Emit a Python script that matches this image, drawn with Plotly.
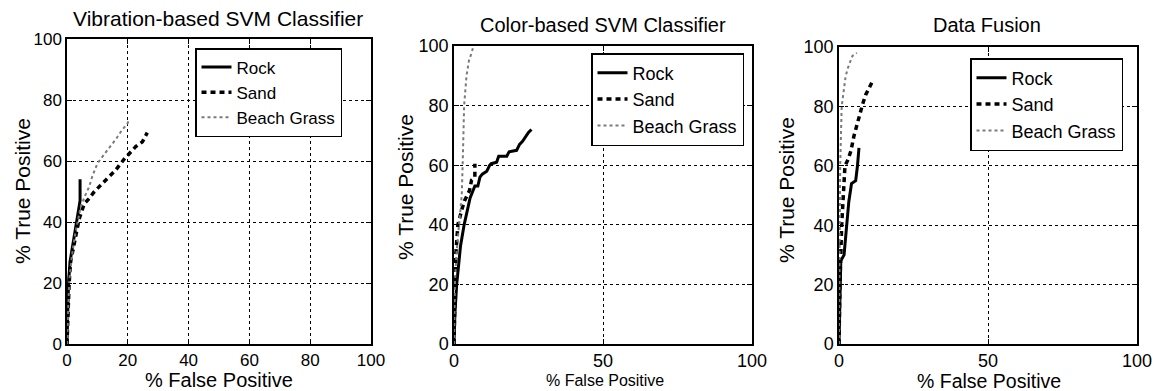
import plotly.graph_objects as go

W, H = 1158, 391

# ---------------- Data ----------------
titles = ["Vibration-based SVM Classifier", "Color-based SVM Classifier", "Data Fusion"]
series_names = ["Rock", "Sand", "Beach Grass"]

# Panel 1: Vibration-based
vib_rock_fp = [0, 0.3, 0.5, 1.0, 1.5, 2.2, 2.8, 3.3, 3.8, 4.3, 4.3]
vib_rock_tp = [0, 10, 20, 27, 30, 33, 37, 40, 44, 47, 54]
vib_sand_fp = [0, 0.3, 0.7, 1.2, 2, 3, 4, 5, 5.7, 7.3, 8.7, 11.1, 13.3, 16, 18.8, 20.4, 22.6, 24.8, 26.4]
vib_sand_tp = [0, 10, 20, 27, 31, 36, 41, 44, 46, 47.7, 49.6, 52.1, 54.3, 57, 60.6, 62.5, 64.7, 66.3, 69.3]
vib_grass_fp = [0, 0.3, 0.7, 1.5, 2.5, 3.5, 4.5, 5.8, 7.3, 8.3, 10, 13.3, 16, 18, 19.9, 20.4]
vib_grass_tp = [0, 10, 20, 28, 35, 40, 45, 48.3, 51.6, 54.9, 59.2, 63.6, 67, 70, 72.3, 73.5]

# Panel 2: Color-based
col_rock_fp = [0, 0.3, 0.9, 1.5, 2.2, 3.4, 4.4, 5.4, 6.2, 7, 8, 8.7, 9.5, 11, 12, 12.5, 14.3, 15, 17.7, 18.5, 21, 22, 23, 24, 25, 26]
col_rock_tp = [0, 10, 20, 27, 33, 40, 45, 49, 51, 53, 53, 56, 57, 58, 60, 60.5, 61, 63, 63, 64.5, 65, 67, 68, 69.5, 71, 72]
col_sand_fp = [0, 0.3, 0.6, 1.3, 2, 2.6, 3.5, 4.3, 5.2, 5.9, 7, 7]
col_sand_tp = [0, 20, 30, 40, 43, 45, 48, 50, 51.5, 55, 56, 60.5]
col_grass_fp = [0, 0.3, 0.8, 1.5, 2, 2.6, 2.9, 3.2, 3.4, 4.2, 5, 6, 6.5]
col_grass_tp = [0, 20, 30, 38, 42, 50, 60, 70, 80, 90, 95, 98, 100]

# Panel 3: Data fusion
fus_rock_fp = [0, 0.3, 0.6, 1.7, 2.5, 3.3, 4.2, 5.6, 6.2, 6.7]
fus_rock_tp = [0, 20, 28, 30, 40, 48, 54, 55, 60, 66]
fus_sand_fp = [0, 0.3, 0.9, 1.5, 2, 3, 4, 5, 6, 7, 8, 9, 10, 11, 11.5]
fus_sand_tp = [0, 20, 40, 52, 60, 62, 65, 70, 74, 78, 81, 84, 86, 88, 89]
fus_grass_fp = [0, 0.2, 0.4, 0.9, 1.5, 2.2, 3, 4.5, 6]
fus_grass_tp = [0, 40, 60, 80, 85, 90, 93, 97, 98]

panels = [
    [(vib_rock_fp, vib_rock_tp), (vib_sand_fp, vib_sand_tp), (vib_grass_fp, vib_grass_tp)],
    [(col_rock_fp, col_rock_tp), (col_sand_fp, col_sand_tp), (col_grass_fp, col_grass_tp)],
    [(fus_rock_fp, fus_rock_tp), (fus_sand_fp, fus_sand_tp), (fus_grass_fp, fus_grass_tp)],
]
x_ticks = [[0, 20, 40, 60, 80, 100], [0, 50, 100], [0, 50, 100]]
y_ticks = [0, 20, 40, 60, 80, 100]

# ---------------- Layout geometry (pixels) ----------------
boxes = [(67, 371, 39, 344), (454, 752, 46, 344), (839, 1137, 47, 344)]
tick_fs = [17, 18, 18]
legend_boxes = [(195, 48, 17), (591, 53, 18), (970, 58, 18)]
title_pos = [(218, 18), (603, 25), (987, 25)]
title_fs = [21, 20, 20]
xtitle_pos = [(219, 380, 20), (605, 380, 16), (989, 381, 19.5)]
ytitle_pos = [(22, 191, 21), (405, 187, 21), (787, 190, 21)]

styles = [
    dict(color="black", width=3, dash="solid"),
    dict(color="black", width=3.5, dash="5px,4px"),
    dict(color="#7a7a7a", width=2, dash="dot"),
]

FONT = "Liberation Sans, Arial, Helvetica, sans-serif"

fig = go.Figure()
for i, pdata in enumerate(panels):
    xa = "x" if i == 0 else f"x{i+1}"
    ya = "y" if i == 0 else f"y{i+1}"
    lg = "legend" if i == 0 else f"legend{i+1}"
    for j, (xs, ys) in enumerate(pdata):
        fig.add_trace(go.Scatter(
            x=xs, y=ys, mode="lines", name=series_names[j],
            line=styles[j], xaxis=xa, yaxis=ya, legend=lg, showlegend=True,
        ))

layout = dict(
    width=W, height=H, margin=dict(l=0, r=0, t=0, b=0, autoexpand=False),
    paper_bgcolor="white", plot_bgcolor="white",
    font=dict(family=FONT, color="black"),
    annotations=[],
)

for i, (x0, x1, y0, y1) in enumerate(boxes):
    sfx = "" if i == 0 else str(i + 1)
    common = dict(
        showline=True, linecolor="black", linewidth=1.5, mirror="ticks",
        ticks="inside", ticklen=5, tickcolor="black", tickwidth=1,
        showgrid=True, gridcolor="black", gridwidth=1, griddash="dot",
        zeroline=False, tickfont=dict(size=tick_fs[i], family=FONT, color="black"),
        range=[0, 100], fixedrange=True, automargin=False,
    )
    layout["xaxis" + sfx] = dict(
        common, domain=[x0 / W, x1 / W], tickvals=x_ticks[i],
        anchor="y" + sfx,
    )
    layout["yaxis" + sfx] = dict(
        common, domain=[1 - y1 / H, 1 - y0 / H], tickvals=y_ticks,
        anchor="x" + sfx,
    )
    lx, ly, lfs = legend_boxes[i]
    layout["legend" + sfx] = dict(
        x=lx / W, y=1 - ly / H, xanchor="left", yanchor="top",
        bgcolor="white", bordercolor="black", borderwidth=1.5,
        font=dict(size=lfs, family=FONT, color="black"),
        tracegroupgap=0, itemwidth=30,
    )
    tx, ty = title_pos[i]
    layout["annotations"].append(dict(
        text=titles[i], x=tx / W, y=1 - ty / H, xref="paper", yref="paper",
        showarrow=False, xanchor="center", yanchor="middle",
        font=dict(size=title_fs[i], family=FONT, color="black"),
    ))
    ax, ay, afs = xtitle_pos[i]
    layout["annotations"].append(dict(
        text="% False Positive", x=ax / W, y=1 - ay / H, xref="paper", yref="paper",
        showarrow=False, xanchor="center", yanchor="middle",
        font=dict(size=afs, family=FONT, color="black"),
    ))
    bx, by, bfs = ytitle_pos[i]
    layout["annotations"].append(dict(
        text="% True Positive", x=bx / W, y=1 - by / H, xref="paper", yref="paper",
        showarrow=False, xanchor="center", yanchor="middle", textangle=-90,
        font=dict(size=bfs, family=FONT, color="black"),
    ))

fig.update_layout(**layout)
fig.write_html("out.html")
